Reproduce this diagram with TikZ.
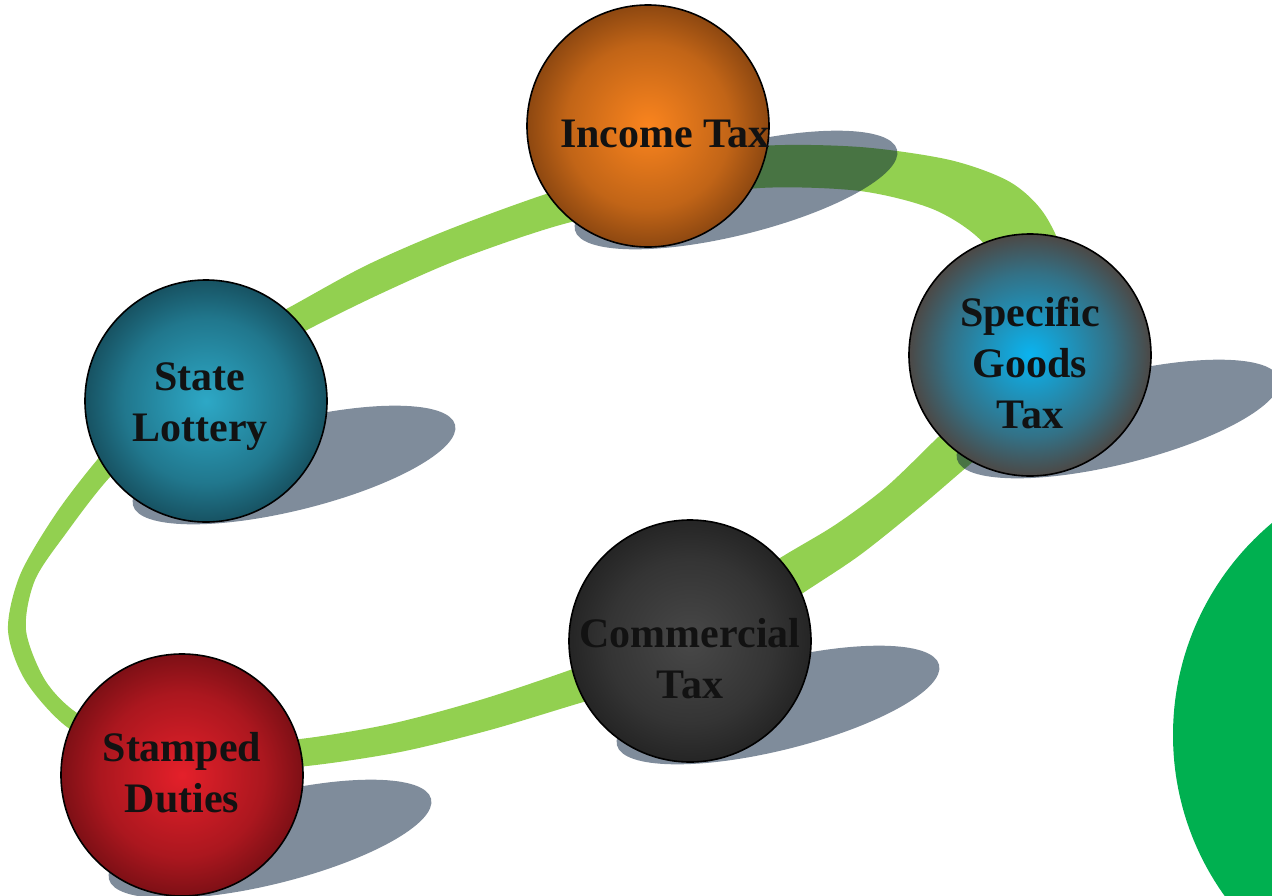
\documentclass[tikz,border=0pt]{standalone}
\usepackage{fontspec}
\setmainfont{Liberation Serif}

\definecolor{ringgreen}{RGB}{146,208,80}
\definecolor{discgreen}{RGB}{0,176,80}
\definecolor{shadowblue}{RGB}{0,25,55}
\definecolor{txt}{RGB}{18,18,18}
\definecolor{incin}{RGB}{250,132,30}
\definecolor{incout}{RGB}{88,42,10}
\definecolor{sgtin}{RGB}{10,180,240}
\definecolor{sgtout}{RGB}{92,46,28}
\definecolor{lotin}{RGB}{45,168,198}
\definecolor{lotout}{RGB}{14,46,56}
\definecolor{comin}{RGB}{72,72,72}
\definecolor{comout}{RGB}{22,22,22}
\definecolor{stmin}{RGB}{228,32,42}
\definecolor{stmout}{RGB}{78,8,12}

\pgfdeclareradialshading{incball}{\pgfpoint{0bp}{0bp}}{color(0bp)=(incin); color(17bp)=(incin!65!incout); color(27bp)=(incin!25!incout); color(35bp)=(incout); color(50bp)=(incout)}
\pgfdeclareradialshading{sgtball}{\pgfpoint{0bp}{0bp}}{color(0bp)=(sgtin); color(17bp)=(sgtin!50!sgtout); color(27bp)=(sgtin!12!sgtout); color(35bp)=(sgtout); color(50bp)=(sgtout)}
\pgfdeclareradialshading{lotball}{\pgfpoint{0bp}{0bp}}{color(0bp)=(lotin); color(17bp)=(lotin!60!lotout); color(27bp)=(lotin!22!lotout); color(35bp)=(lotout); color(50bp)=(lotout)}
\pgfdeclareradialshading{comball}{\pgfpoint{0bp}{0bp}}{color(0bp)=(comin); color(17bp)=(comin!60!comout); color(27bp)=(comin!22!comout); color(35bp)=(comout); color(50bp)=(comout)}
\pgfdeclareradialshading{stmball}{\pgfpoint{0bp}{0bp}}{color(0bp)=(stmin); color(17bp)=(stmin!62!stmout); color(27bp)=(stmin!24!stmout); color(35bp)=(stmout); color(50bp)=(stmout)}

\begin{document}
\begin{tikzpicture}[x=1pt, y=-1pt,
		ball/.style = {circle, draw=black, line width=1.6pt, shade, minimum size=242pt, inner sep=0pt},
		word/.style = {font=\bfseries\fontsize{42}{51}\selectfont, text=txt, align=center},
		flat/.style = {fill=shadowblue, fill opacity=0.5}]
		\useasboundingbox (0,0) rectangle (1272,895);
		
		\fill[ringgreen, even odd rule]
			plot[smooth cycle] coordinates {(290,307) (365,266) (445,231) (543,195) (650,162) (760,146) (860,147) (950,160) (1010,182) (1045,215) (1068,270) (1068,340) (1035,410) (975,460) (920,507) (860,555) (803,593) (740,635) (660,680) (580,703) (490,730) (400,752) (307,766) (215,772) (130,758) (67,727) (25,680) (8,630) (20,575) (55,515) (97,460) (155,395) (220,345)}
			plot[smooth cycle] coordinates {(307,330) (380,294) (460,259) (560,225) (660,203) (760,188) (860,191) (935,210) (985,245) (1005,300) (995,360) (970,405) (933,442) (885,488) (835,525) (780,558) (710,603) (640,643) (570,670) (480,700) (390,724) (300,739) (210,745) (130,737) (77,713) (45,680) (26,630) (35,580) (67,532) (110,477) (170,420) (240,367)};
		
		\fill[flat, rotate around={14:(736,190)}] (736,190) ellipse [x radius=166, y radius=45];
		\fill[flat, rotate around={14:(1118,419)}] (1118,419) ellipse [x radius=166, y radius=45];
		\fill[flat, rotate around={14:(294,465)}] (294,465) ellipse [x radius=166, y radius=45];
		\fill[flat, rotate around={14:(778,705)}] (778,705) ellipse [x radius=166, y radius=45];
		\fill[flat, rotate around={14:(270,839)}] (270,839) ellipse [x radius=166, y radius=45];
		
		\node[ball, shading=incball] (1) at (648,126) {};
		\node[ball, shading=sgtball] (2) at (1030,355) {};
		\node[ball, shading=comball] (3) at (690,641) {};
		\node[ball, shading=stmball] (4) at (182,775) {};
		\node[ball, shading=lotball] (5) at (206,401) {};
		
		\node[word, xshift=17pt, yshift=-8pt] (6) at (1) {Income Tax};
		\node[word, yshift=-8pt] (7) at (2) {Specific\\Goods\\Tax};
		\node[word, yshift=-18pt] (8) at (3) {Commercial\\Tax};
		\node[word, yshift=2pt] (9) at (4) {Stamped\\Duties};
		\node[word, xshift=-6pt, yshift=-6pt] (10) at (5) {State\\Lottery};
		
		\begin{scope}
			\clip (0,0) rectangle (1272,895);
			\fill[discgreen] (1449.5,735) circle [radius=276.5];
		\end{scope}
	\end{tikzpicture}
\end{document}
